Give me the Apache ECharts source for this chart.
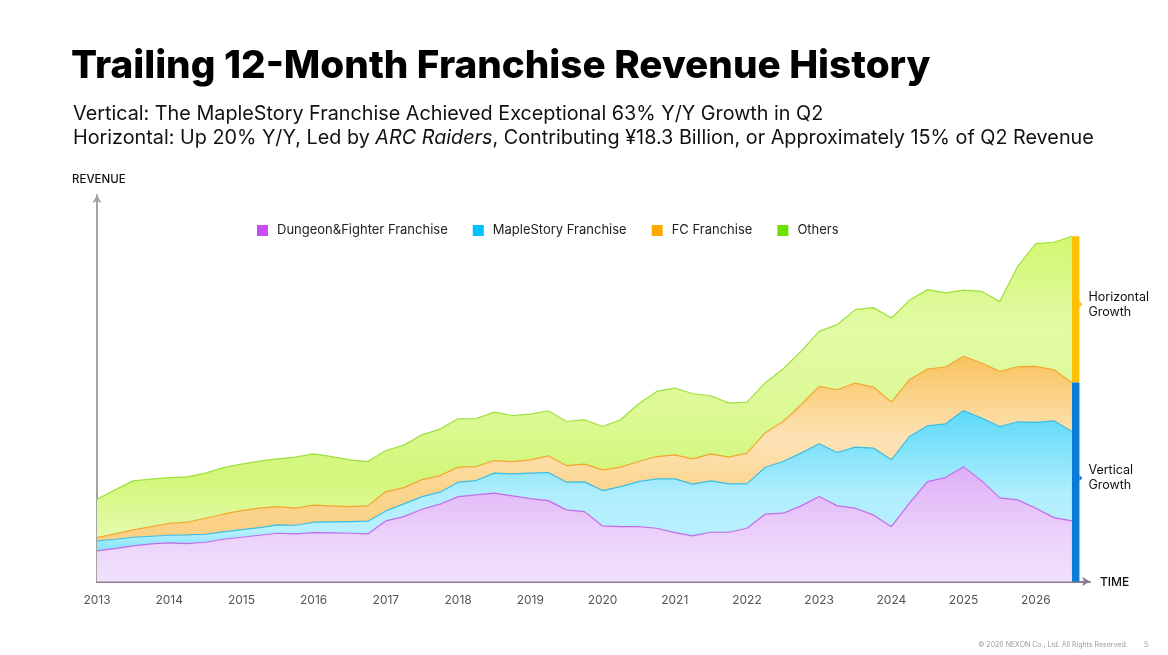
<!DOCTYPE html>
<html>
<head>
<meta charset="utf-8">
<script src="https://cdn.jsdelivr.net/npm/echarts@6/dist/echarts.min.js"></script>
<style>
html,body{margin:0;padding:0;background:#fff;}
#c{width:1168px;height:655px;}
</style>
</head>
<body>
<div id="c"></div>
<script>
// Quarterly trailing-12-month revenue by franchise (relative units), 2013 Q1 .. 2026 Q3
const startYear = 2013;
const years = [2013,2014,2015,2016,2017,2018,2019,2020,2021,2022,2023,2024,2025,2026];
const seriesNames = ['Dungeon&Fighter Franchise','MapleStory Franchise','FC Franchise','Others'];
const dnf = [30.5,32.8,35.5,37.5,38.5,37.8,39.2,42.2,44.2,46.2,48.2,47.5,48.8,48.5,48.2,47.5,60.5,64.8,72.2,77.2,84.8,86.5,88.2,85.5,82.8,80.8,71.5,69.8,55.5,54.8,54.8,53.2,48.8,45.5,49.2,49.2,53.2,67.2,68.2,75.5,84.8,75.5,73.2,66.5,54.8,78.2,99.8,103.8,114.5,100.5,83.5,81.5,73.2,63.8,60.5];
const maple = [10,9.4,8.7,7.7,7.7,8.7,8,7.3,7.6,7.6,8.3,8.7,10.4,11,11.6,12.7,10,12.7,12.6,12,14.4,14.3,20,22,25.4,28,27.7,29.7,35.3,40,45,49.3,53.7,51.7,51.3,48.3,44.3,46.6,51.6,52.7,52.7,53.3,61,66.7,66.7,66.6,55.7,53.7,56.3,62.7,71.3,78,85.8,96.7,89.3];
const fc = [3.3,5.3,7.3,9.6,12,12.7,16,17.7,19,19.4,18.3,17,17,16,15,15.6,19.3,16.3,17,16.6,15,14,12.6,12.3,13.3,16.7,16.6,17.7,20.7,19.4,20,22.3,24,25.3,27,26.7,30.7,34.4,40,48.3,57.3,62.7,64,61,57.7,56.7,56.7,56.7,54.2,55,55.2,55,55.8,51,49];
const others = [38.4,44,49,47.4,45.6,45.3,45,46.6,46.4,47,47.7,51,51.3,49.3,46.7,44,41,42.4,44.7,46.4,48.3,48,48.4,46,45.7,45,44,44.3,43.3,47.3,57.7,65,66.7,65,58,54,51,50,52.4,53.3,55,65,73.3,79.3,84,79.3,79.3,74,66,71.6,69.5,100.3,122.7,127.3,146];

// Quarter categories (one extra empty slot at the end for the axis arrow)
const quarters = [];
years.forEach(y => ['Q1','Q2','Q3','Q4'].forEach(q => quarters.push(y + ' ' + q)));
const categories = quarters.slice(0, dnf.length).concat(['']);

const FONT = 'Inter, "Noto Sans", sans-serif';
const legendColors = ['#c94cf7', '#00c3fb', '#ffa800', '#6ee000'];
const lineColors = ['#c46be8', '#3cbde2', '#f3a52c', '#9ee03c'];
const fillStops = [
  [[0, '#deaef7'], [0.55, '#eacffa'], [1, '#f1e2fc']],
  [[0, '#5cd9fa'], [0.6, '#b0eefd'], [0.85, '#b8f0fd'], [1, '#86e3fb']],
  [[0, '#f9c35e'], [0.45, '#fde3b6'], [0.72, '#fbd58e'], [1, '#fad084']],
  [[0, '#d2f76e'], [0.3, '#e2fba5'], [0.6, '#dcf994'], [0.8, '#d2f77a'], [1, '#e4fbab']]
];
const seriesData = [dnf, maple, fc, others];

const chart = echarts.init(document.getElementById('c'), null, {renderer: 'canvas'});

const option = {
  backgroundColor: '#ffffff',
  animation: false,
  textStyle: {fontFamily: FONT},
  grid: {left: 97, right: 78, top: 195, bottom: 73.5, containLabel: false},
  legend: {
    left: 252, top: 219,
    icon: 'rect', itemWidth: 11, itemHeight: 11, itemGap: 25,
    textStyle: {fontSize: 13, color: '#222', fontFamily: FONT, padding: [0, 0, 0, 4]},
    data: seriesNames
  },
  xAxis: {
    type: 'category', boundaryGap: false, data: categories,
    axisLine: {show: true, lineStyle: {color: '#8c7d96', width: 2}, symbol: ['none', 'arrow'], symbolSize: [7, 8]},
    axisTick: {show: false},
    splitLine: {show: false},
    axisLabel: {
      interval: 3, margin: 13, fontSize: 12, color: '#555', fontFamily: FONT,
      formatter: v => (v.endsWith('Q1') ? v.slice(0, 4) : '')
    }
  },
  yAxis: {
    type: 'value', min: 0, max: 386,
    axisLine: {show: true, lineStyle: {color: '#a3a3a3', width: 2}, symbol: ['none', 'arrow'], symbolSize: [7, 8]},
    axisTick: {show: false}, axisLabel: {show: false}, splitLine: {show: false}
  },
  series: seriesNames.map((name, k) => ({
    name, type: 'line', stack: 'total', symbol: 'none', smooth: false,
    itemStyle: {color: legendColors[k]},
    lineStyle: {color: lineColors[k], width: 1.2},
    areaStyle: {
      opacity: 1,
      color: {type: 'linear', x: 0, y: 0, x2: 0, y2: 1,
        colorStops: fillStops[k].map(s => ({offset: s[0], color: s[1]}))}
    },
    emphasis: {disabled: true},
    data: seriesData[k]
  })),
  graphic: [
    {type: 'text', left: 71, top: 47, style: {text: 'Trailing 12-Month Franchise Revenue History', font: '800 38.7px ' + FONT, fill: '#000'}},
    {type: 'text', left: 73, top: 104, style: {text: 'Vertical: The MapleStory Franchise Achieved Exceptional 63% Y/Y Growth in Q2', font: '400 19.8px ' + FONT, fill: '#111'}},
    {type: 'text', left: 73, top: 128, style: {
      text: 'Horizontal: Up 20% Y/Y, Led by {i|ARC Raiders}, Contributing ¥18.3 Billion, or Approximately 15% of Q2 Revenue',
      font: '400 19.8px ' + FONT, fill: '#111',
      rich: {i: {fontStyle: 'italic', fontSize: 19.8, fontFamily: FONT, fill: '#111'}}
    }},
    {type: 'text', left: 72, top: 174, style: {text: 'REVENUE', font: '500 11.5px ' + FONT, fill: '#111'}},
    {type: 'text', left: 1100, top: 576, style: {text: 'TIME', font: '500 12px ' + FONT, fill: '#111'}},
    {type: 'text', left: 978, top: 641, style: {text: '© 2026 NEXON Co., Ltd. All Rights Reserved.', font: '400 7px ' + FONT, fill: '#9a9a9a'}},
    {type: 'text', left: 1144, top: 641, style: {text: '5', font: '400 7px ' + FONT, fill: '#9a9a9a'}}
  ]
};

chart.setOption(option);

// Growth bars at the last data point, derived from the stacked values
const last = dnf.length - 1;
const verticalTop = dnf[last] + maple[last] + fc[last];
const horizontalTop = verticalTop + others[last];
const p0 = chart.convertToPixel({gridIndex: 0}, [last, 0]);
const pV = chart.convertToPixel({gridIndex: 0}, [last, verticalTop]);
const pH = chart.convertToPixel({gridIndex: 0}, [last, horizontalTop]);
const bx = p0[0], bw = 7.5;
const midH = (pV[1] + pH[1]) / 2 - 5;
const midV = (p0[1] + pV[1]) / 2 - 4;
const extra = [
  {type: 'rect', shape: {x: bx, y: pH[1], width: bw, height: pV[1] - pH[1]}, style: {fill: '#ffc000'}, z: 10},
  {type: 'rect', shape: {x: bx, y: pV[1], width: bw, height: p0[1] - pV[1]}, style: {fill: '#0b7bd8'}, z: 10},
  {type: 'polygon', shape: {points: [[bx + bw, midH - 3], [bx + bw + 3, midH], [bx + bw, midH + 3]]}, style: {fill: '#ffc000'}, z: 10},
  {type: 'polygon', shape: {points: [[bx + bw, midV - 3], [bx + bw + 3, midV], [bx + bw, midV + 3]]}, style: {fill: '#0b7bd8'}, z: 10},
  {type: 'text', x: bx + 16.5, y: midH, style: {text: 'Horizontal\nGrowth', font: '400 12.5px ' + FONT, fill: '#111', lineHeight: 15, verticalAlign: 'middle'}, z: 10},
  {type: 'text', x: bx + 16.5, y: midV, style: {text: 'Vertical\nGrowth', font: '400 12.5px ' + FONT, fill: '#111', lineHeight: 15, verticalAlign: 'middle'}, z: 10}
];
chart.setOption({graphic: option.graphic.concat(extra)});
</script>
</body>
</html>
